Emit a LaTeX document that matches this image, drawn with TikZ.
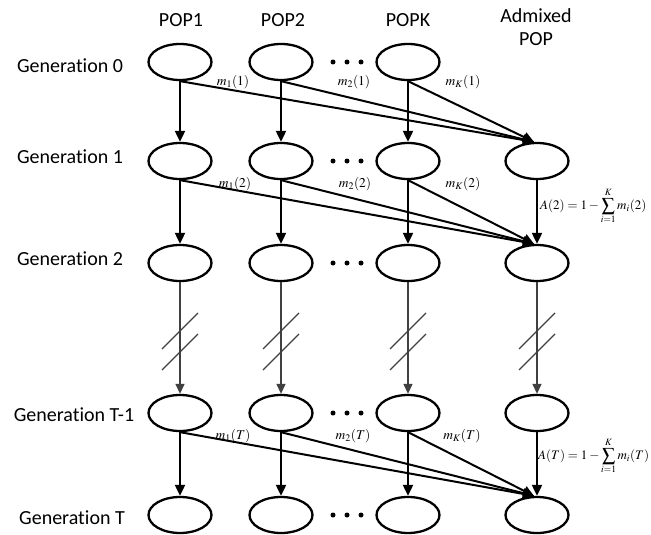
\documentclass[tikz,border=0pt]{standalone}
\usepackage{mathptmx}
\usepackage[no-math]{fontspec}
\setmainfont[Ligatures=NoCommon]{Carlito}
\usetikzlibrary{arrows.meta,shapes.geometric}
\begin{document}
\begin{tikzpicture}[x=1pt,y=-1pt,
 pop/.style={ellipse,draw,line width=2.3pt,minimum width=63pt,minimum height=36pt,inner sep=0pt},
 lbl/.style={font=\fontsize{20}{23}\selectfont,inner sep=0pt},
 ml/.style={font=\fontsize{13.5}{15}\selectfont,inner sep=0pt},
 eq/.style={font=\fontsize{13}{15}\selectfont,inner sep=0pt,anchor=west},
 arr/.style={line width=2pt,-{Triangle[length=11pt,width=10pt]}},
 garr/.style={line width=1.3pt,draw=black!75,-{Triangle[length=10pt,width=9pt]}},
 slash/.style={line width=1.4pt,draw=black!75},
 dot/.style={circle,fill,inner sep=0pt,minimum size=5pt}]
\useasboundingbox (0,0) rectangle (651,535);

% column headers
\node[lbl] (h1) at (181,20) {POP1};
\node[lbl] (h2) at (283,20) {POP2};
\node[lbl] (hk) at (408,20) {POPK};
\node[lbl,align=center] (ha) at (536,27) {Admixed\\POP};

% row labels
\node[lbl] (g0) at (70,66) {Generation 0};
\node[lbl] (g1) at (70,157) {Generation 1};
\node[lbl] (g2) at (70,259) {Generation 2};
\node[lbl] (g3) at (74,415) {Generation T-1};
\node[lbl] (g4) at (72,518) {Generation T};

% ellipses and dots
\foreach \r/\y in {0/62,1/161,2/263,3/413,4/515}{
  \node[pop] (p1r\r) at (180,\y) {};
  \node[pop] (p2r\r) at (281,\y) {};
  \node[pop] (pkr\r) at (408,\y) {};
  \node[dot] (da\r) at (333,\y) {};
  \node[dot] (db\r) at (347,\y) {};
  \node[dot] (dc\r) at (361,\y) {};
}
\foreach \r/\y in {1/161,2/263,3/413,4/515}{
  \node[pop] (ar\r) at (537,\y) {};
}

% solid generations
\foreach \a/\b in {0/1,1/2,3/4}{
  \draw[arr] (p1r\a.south) -- (p1r\b.north);
  \draw[arr] (p2r\a.south) -- (p2r\b.north);
  \draw[arr] (pkr\a.south) -- (pkr\b.north);
  \draw[arr] (p1r\a.south) -- ([xshift=-3pt]ar\b.north);
  \draw[arr] (p2r\a.south) -- ([xshift=-3pt]ar\b.north);
  \draw[arr] (pkr\a.south) -- ([xshift=-3pt]ar\b.north);
}
\draw[arr] (ar1.south) -- (ar2.north);
\draw[arr] (ar3.south) -- (ar4.north);

% broken generations
\draw[garr] (p1r2.south) -- (p1r3.north);
\draw[garr] (p2r2.south) -- (p2r3.north);
\draw[garr] (pkr2.south) -- (pkr3.north);
\draw[garr] (ar2.south) -- (ar3.north);
\foreach \x in {180,281,408,537}{
  \draw[slash] (\x-18,331+18) -- (\x+18,331-18);
  \draw[slash] (\x-18,352+18) -- (\x+18,352-18);
}

% migration labels
\node[ml] (m11) at (233,82) {$m_1(1)$};
\node[ml] (m21) at (354,82) {$m_2(1)$};
\node[ml] (mk1) at (463,82) {$m_K(1)$};
\node[ml] (m12) at (235,184) {$m_1(2)$};
\node[ml] (m22) at (355,184) {$m_2(2)$};
\node[ml] (mk2) at (463,184) {$m_K(2)$};
\node[ml] (m1t) at (233,436) {$m_1(T)$};
\node[ml] (m2t) at (353,436) {$m_2(T)$};
\node[ml] (mkt) at (462,436) {$m_K(T)$};

\node[eq] (a2) at (540,206) {$A(2)=1-\displaystyle\sum_{i=1}^{K} m_i(2)$};
\node[eq] (at) at (538,456) {$A(T)=1-\displaystyle\sum_{i=1}^{K} m_i(T)$};
\end{tikzpicture}
\end{document}
